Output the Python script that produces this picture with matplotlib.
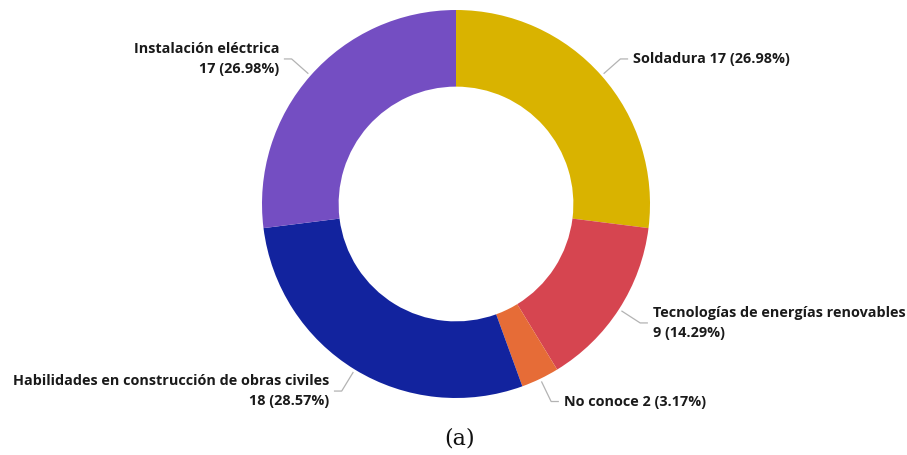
import matplotlib.pyplot as plt
import numpy as np

# participants by area of interest, clockwise from the top
categories = ["Soldadura", "Tecnologías de energías renovables", "No conoce",
              "Habilidades en construcción de obras civiles", "Instalación eléctrica"]
counts = [17, 9, 2, 18, 17]
colors = ["#D9B300", "#D64550", "#E66C37", "#12239E", "#744EC2"]
# label text for each slice ("\n" splits the name from the value where it wraps)
label_fmt = ["{name} {n} ({p:.2f}%)", "{name}\n{n} ({p:.2f}%)", "{name} {n} ({p:.2f}%)",
             "{name}\n{n} ({p:.2f}%)", "{name}\n{n} ({p:.2f}%)"]

W, H = 907, 455
fig = plt.figure(figsize=(W / 100, H / 100), dpi=100)
cx, cy, R = 456, 204, 194
ax = fig.add_axes([(cx - R) / W, (H - cy - R) / H, 2 * R / W, 2 * R / H])

wedges, _ = ax.pie(counts, colors=colors, startangle=90, counterclock=False,
                   wedgeprops=dict(width=0.395, edgecolor="none"))
ax.set_xlim(-1, 1)
ax.set_ylim(-1, 1)
ax.set_aspect("equal")
ax.axis("off")

total = sum(counts)
for w, name, n, fmt in zip(wedges, categories, counts, label_fmt):
    ang = np.deg2rad((w.theta1 + w.theta2) / 2)
    dx, dy = np.cos(ang), np.sin(ang)
    x0, y0 = 1.015 * dx, 1.015 * dy
    x1, y1 = 1.13 * dx, 1.13 * dy
    side = 1 if dx >= 0 else -1
    x2 = x1 + side * 0.04
    ax.plot([x0, x1, x2], [y0, y1, y1], color="#b3b3b3", lw=0.9,
            clip_on=False, solid_capstyle="butt")
    txt = fmt.format(name=name, n=n, p=100 * n / total)
    ax.text(x2 + side * 0.025, y1, txt, ha="left" if side > 0 else "right",
            va="center", fontsize=10.4, fontweight="bold", family="Open Sans",
            color="#1a1a1a", linespacing=1.55,
            multialignment="left" if side > 0 else "right")

fig.text(460 / W, 1 - 438 / H, "(a)", ha="center", va="center",
         fontsize=16, family="DejaVu Serif", color="#111111")

fig.savefig("out.png", dpi=100, facecolor="white")
